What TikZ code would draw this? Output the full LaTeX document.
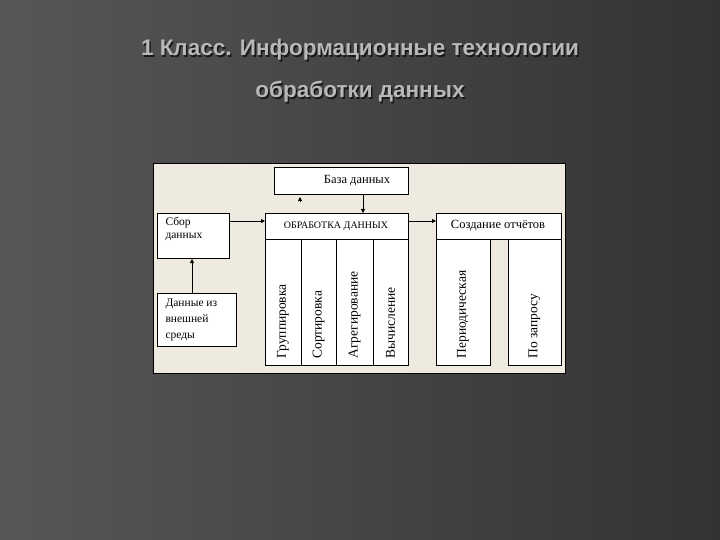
\documentclass[tikz,border=0pt]{standalone}
\usepackage{fontspec}
\setmainfont{Liberation Serif}
\newfontfamily\titlefont{Liberation Sans}
\usetikzlibrary{arrows.meta}
\definecolor{panel}{HTML}{EEEAE0}
\tikzset{
  box/.style={draw=black,line width=1pt,fill=white,inner sep=0pt},
  lbl/.style={font=\fontsize{11.5}{13}\selectfont,align=left,anchor=north west},
  col/.style={rotate=90,font=\fontsize{13.5}{14}\selectfont,anchor=west},
  arr/.style={-{Triangle[length=4pt,width=4pt]},line width=0.8pt},
  ttl/.style={font=\titlefont\bfseries\fontsize{22.5}{26}\selectfont,text=black!28}
}
\begin{document}
\begin{tikzpicture}[x=1pt,y=-1pt]
\useasboundingbox (0,0) rectangle (720,540);
\shade[left color=black!66,right color=black!80] (0,0) rectangle (720,540);
\foreach \t/\y in {{1 Класс. Информационные технологии}/50,{обработки данных}/92}{
  \node[ttl,text=black!90] at (361.5,\y+1.5) {\t};
  \node[ttl] (t\y) at (360,\y) {\t};
}
\node[draw=black,line width=1pt,fill=panel,minimum width=412,minimum height=210,anchor=north west,inner sep=0pt] (panel) at (153,163) {};
% boxes
\node[box,minimum width=134,minimum height=27,anchor=north west] (db) at (274,167) {};
\node[font=\fontsize{12.5}{13}\selectfont] at (357,181) {База данных};
\node[box,minimum width=143,minimum height=26,anchor=north west] (proc) at (265,213) {};
\node[font=\fontsize{10}{11}\selectfont] at (336,226) {ОБРАБОТКА ДАННЫХ};
\node[box,minimum width=125,minimum height=26,anchor=north west] (rep) at (436,213) {};
\node[font=\fontsize{12.5}{13}\selectfont] at (498,226) {Создание отчётов};
\node[box,minimum width=72,minimum height=45,anchor=north west] (col) at (157,213) {};
\node[lbl] at (162,214) {Сбор\\данных};
\node[box,minimum width=79,minimum height=53,anchor=north west] (ext) at (157,293) {};
\node[lbl,font=\fontsize{11.5}{16}\selectfont] at (162,295) {Данные из\\внешней\\среды};
% columns
\foreach \a/\b/\t [count=\i] in {265/301/Группировка,301/336/Сортировка,336/373/Агрегирование,373/408/Вычисление,436/490/Периодическая,508/561/По запросу}{
  \node[box,minimum width=\b-\a,minimum height=126,anchor=north west] (c\i) at (\a,239) {};
  \node[col] at ({(\a+\b)/2},362) {\t};
}
% arrows
\draw[arr] (col.east|-0,221) -- (proc.west|-0,221);
\draw[arr] (proc.east|-0,221) -- (rep.west|-0,221);
\draw[arr] (ext.north-|192,0) -- (col.south-|192,0);
\draw[arr] (db.south-|363,0) -- (proc.north-|363,0);
\coordinate (up1) at (300,201);
\coordinate (up2) at (300,197);
\draw[arr] (up1) -- (up2);
\end{tikzpicture}
\end{document}
